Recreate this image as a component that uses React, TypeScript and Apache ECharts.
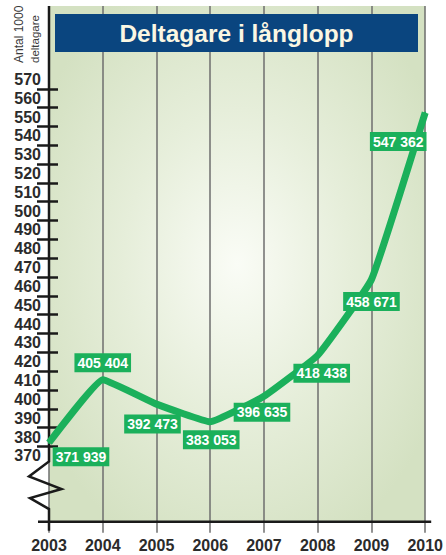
import React, { useEffect, useRef } from "react";
import * as echarts from "echarts";

// ---- data ----
const YEARS = ["2003", "2004", "2005", "2006", "2007", "2008", "2009", "2010"];
const PARTICIPANTS = [371939, 405404, 392473, 383053, 396635, 418438, 458671, 547362];
const Y_TICKS_K = [370, 380, 390, 400, 410, 420, 430, 440, 450, 460, 470, 480, 490, 500, 510, 520, 530, 540, 550, 560];
const Y_LABELS_K = [370, 380, 390, 400, 410, 420, 430, 440, 450, 460, 470, 480, 490, 500, 510, 520, 530, 540, 550, 560, 570];
const TITLE = "Deltagare i långlopp";
const AXIS_NAME_1 = "Antal 1000";
const AXIS_NAME_2 = "deltagare";

// ---- styles ----
const Y_MIN = 330000;
const Y_MAX = 604000;
const BREAK_TOP = 362000;
const BREAK_BOTTOM = 336700;
const LABEL_OFFSETS: [number, number][] = [
  [32, 14],
  [0, -17],
  [-4, 20],
  [1, 18],
  [-2, 16],
  [4, 18],
  [0, 22],
  [-27, 29],
];
const GREEN = "#1bb05b";
const FONT = "'Liberation Sans', Arial, sans-serif";
const DARK = "#2b2b2b";
const GRID_GRAY = "#6e6e6e";

const fmt = (v: number) => String(v).replace(/\B(?=(\d{3})+(?!\d))/g, " ");

export default function App() {
  const ref = useRef<HTMLDivElement>(null);
  useEffect(() => {
    if (!ref.current) return;
    const chart = echarts.init(ref.current, null, { renderer: "svg" });
    const option: any = {
      animation: false,
      backgroundColor: "#ffffff",
      grid: {
        left: 49,
        right: 19,
        top: 6,
        bottom: 33.3,
        show: true,
        borderWidth: 0,
        backgroundColor: new echarts.graphic.RadialGradient(0.5, 0.5, 0.6, [
          { offset: 0, color: "#fafcf6" },
          { offset: 0.5, color: "#e6eeda" },
          { offset: 1, color: "#d4e1c2" },
        ]),
      },
      xAxis: {
        type: "category",
        data: YEARS,
        boundaryGap: false,
        axisLine: { show: false },
        axisTick: { show: true, length: 11, lineStyle: { color: GRID_GRAY, width: 1.5 } },
        splitLine: { show: true, lineStyle: { color: GRID_GRAY, width: 1.5 } },
        axisLabel: {
          margin: 16,
          fontSize: 16,
          fontWeight: "bold",
          color: DARK,
          fontFamily: FONT,
          showMinLabel: true,
          showMaxLabel: true,
          hideOverlap: false,
        },
      },
      yAxis: [
        {
          type: "value",
          min: Y_MIN,
          max: Y_MAX,
          position: "left",
          splitLine: { show: false },
          axisLine: { show: false },
          axisTick: {
            show: true,
            inside: false,
            length: 12,
            customValues: Y_TICKS_K.map((k) => k * 1000),
            lineStyle: { color: "#1a1a1a", width: 2.5 },
          },
          axisLabel: {
            customValues: Y_LABELS_K.map((k) => k * 1000 - 5000),
            formatter: (v: number) => String(Math.round((v + 5000) / 1000)),
            margin: 8,
            fontSize: 16,
            fontWeight: "bold",
            color: DARK,
            fontFamily: FONT,
            hideOverlap: false,
          },
        },
        {
          type: "value",
          min: Y_MIN,
          max: Y_MAX,
          position: "left",
          splitLine: { show: false },
          axisLine: { show: false },
          axisLabel: { show: false },
          axisTick: {
            show: true,
            inside: true,
            length: 9,
            customValues: Y_TICKS_K.map((k) => k * 1000),
            lineStyle: { color: "#1a1a1a", width: 2.5 },
          },
        },
      ],
      series: [
        {
          type: "line",
          yAxisIndex: 0,
          smooth: 0.1,
          symbol: "circle",
          symbolSize: 2,
          showSymbol: true,
          itemStyle: { color: GREEN },
          lineStyle: { color: GREEN, width: 7, join: "round" },
          z: 5,
          data: PARTICIPANTS.map((v, i) => ({
            value: v,
            label: { offset: LABEL_OFFSETS[i] },
          })),
          label: {
            show: true,
            position: "inside",
            formatter: (p: any) => fmt(p.value),
            color: "#ffffff",
            fontSize: 14,
            fontWeight: "bold",
            fontFamily: FONT,
            backgroundColor: GREEN,
            padding: [3, 3, 2, 3],
            lineHeight: 14,
          },
        },
      ],
    };
    chart.setOption(option);

    const x0 = chart.convertToPixel({ xAxisIndex: 0 }, 0) as number;
    const xEnd = chart.convertToPixel({ xAxisIndex: 0 }, YEARS.length - 1) as number;
    const yTop = chart.convertToPixel({ yAxisIndex: 0 }, Y_MAX) as number;
    const yBase = chart.convertToPixel({ yAxisIndex: 0 }, Y_MIN) as number;
    const T = chart.convertToPixel({ yAxisIndex: 0 }, BREAK_TOP) as number;
    const B = chart.convertToPixel({ yAxisIndex: 0 }, BREAK_BOTTOM) as number;

    chart.setOption({
      graphic: [
        {
          type: "polyline",
          z: 3,
          shape: {
            points: [
              [x0, yTop],
              [x0, T],
              [x0 - 20, T + 15],
              [x0 + 12.5, T + 27.6],
              [x0 - 19, T + 36.6],
              [x0, B],
              [x0, yBase + 9],
            ],
          },
          style: { stroke: "#1a1a1a", lineWidth: 2.5, fill: null, lineJoin: "miter" },
        },
        {
          type: "line",
          z: 3,
          shape: { x1: x0 - 11, y1: yBase, x2: xEnd + 6, y2: yBase },
          style: { stroke: "#1a1a1a", lineWidth: 2.5 },
        },
        {
          type: "rect",
          z: 10,
          shape: { x: 55, y: 14, width: 363, height: 38 },
          style: { fill: "#0a457f" },
        },
        {
          type: "text",
          z: 11,
          x: 236.5,
          y: 33.5,
          style: {
            text: TITLE,
            fill: "#fbf7e3",
            font: `bold 24.5px ${FONT}`,
            textAlign: "center",
            textVerticalAlign: "middle",
          },
        },
        {
          type: "text",
          z: 11,
          x: 19,
          y: 63,
          rotation: Math.PI / 2,
          style: {
            text: AXIS_NAME_1,
            fill: "#3a3a3a",
            font: `12px ${FONT}`,
            textAlign: "left",
            textVerticalAlign: "middle",
          },
        },
        {
          type: "text",
          z: 11,
          x: 35,
          y: 63,
          rotation: Math.PI / 2,
          style: {
            text: AXIS_NAME_2,
            fill: "#3a3a3a",
            font: `11.5px ${FONT}`,
            textAlign: "left",
            textVerticalAlign: "middle",
          },
        },
      ],
    });
    return () => chart.dispose();
  }, []);
  return (
    <div
      ref={ref}
      style={{ position: "fixed", left: 0, top: 0, width: 446, height: 555 }}
    />
  );
}
